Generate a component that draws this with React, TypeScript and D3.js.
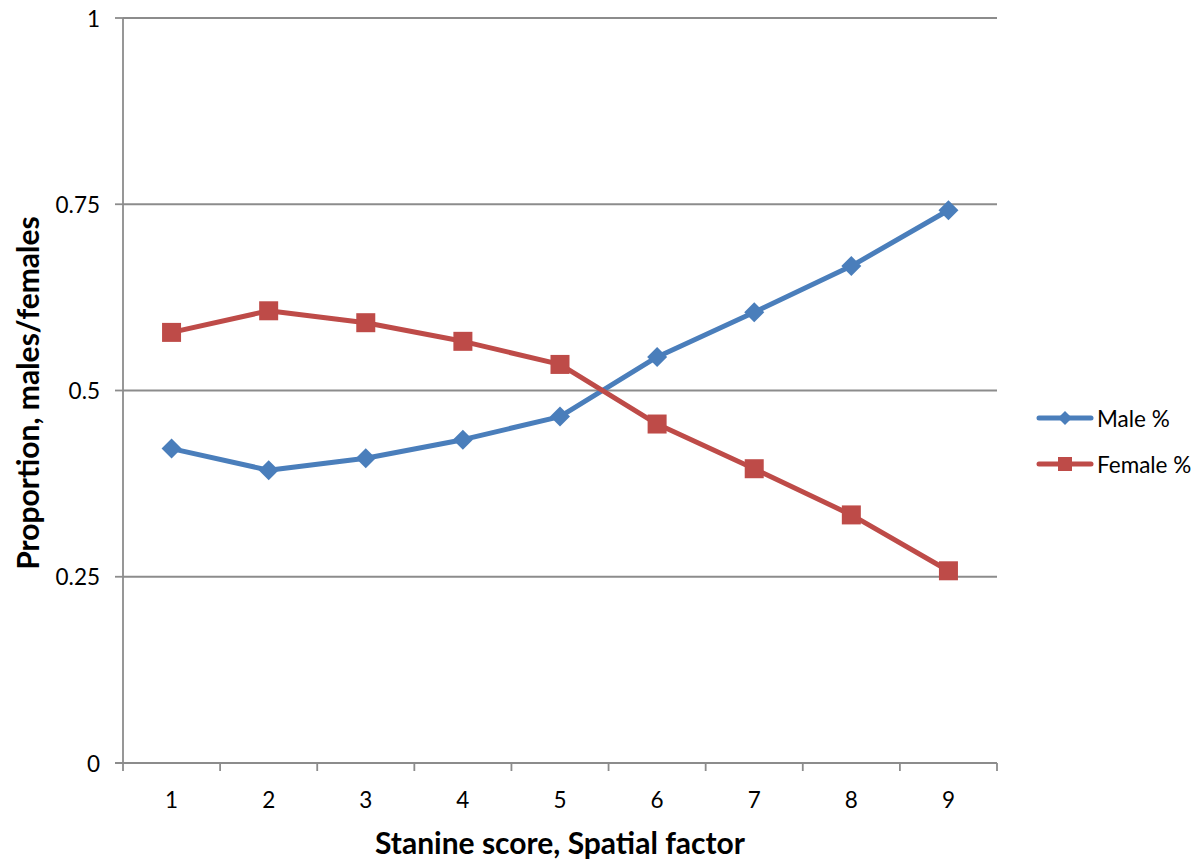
import React from "react";
import * as d3 from "d3";

const stanines = ["1", "2", "3", "4", "5", "6", "7", "8", "9"];
const maleShare = [0.422, 0.393, 0.409, 0.434, 0.465, 0.545, 0.605, 0.667, 0.742];
const femaleShare = [0.578, 0.607, 0.591, 0.566, 0.535, 0.455, 0.395, 0.333, 0.258];
const yTicks = [0, 0.25, 0.5, 0.75, 1];
const yTickLabels = ["0", "0.25", "0.5", "0.75", "1"];

const W = 1202;
const H = 861;
const left = 123;
const right = 997;
const top = 18;
const bottom = 763;
const FONT = "Lato, 'Open Sans', sans-serif";
const BLUE = "#4a7ebb";
const RED = "#be4b48";
const GRID = "#8c8c8c";
const TICK_SIZE = 22.5;
const TITLE_SIZE = 30;

export default function App() {
  const x = d3.scaleBand<string>().domain(stanines).range([left, right]);
  const cx = (c: string) => (x(c) ?? 0) + x.bandwidth() / 2;
  const y = d3.scaleLinear().domain([0, 1]).range([bottom, top]);
  const line = d3
    .line<number>()
    .x((_, i) => cx(stanines[i]))
    .y((v) => y(v));

  const diamond = (px: number, py: number, r: number) =>
    `M${px},${py - r}L${px + r},${py}L${px},${py + r}L${px - r},${py}Z`;

  const bandEdges = stanines.map((c) => x(c) ?? 0).concat([right]);

  return (
    <svg width={W} height={H} style={{ position: "absolute", left: 0, top: 0, background: "#fff" }}>
      {yTicks.map((t, i) => (
        <g key={t}>
          {t > 0 && (
            <line x1={left} x2={right} y1={y(t)} y2={y(t)} stroke={GRID} strokeWidth={1.8} />
          )}
          <line x1={left - 8} x2={left} y1={y(t)} y2={y(t)} stroke={GRID} strokeWidth={1.8} />
          <text
            x={100}
            y={y(t)}
            textAnchor="end"
            dominantBaseline="central"
            fontFamily={FONT}
            fontSize={TICK_SIZE}
            fill="#000"
          >
            {yTickLabels[i]}
          </text>
        </g>
      ))}
      <line x1={left} x2={left} y1={top} y2={bottom} stroke={GRID} strokeWidth={1.8} />
      <line x1={left - 8} x2={right} y1={bottom} y2={bottom} stroke={GRID} strokeWidth={1.8} />
      {bandEdges.map((e, i) => (
        <line key={i} x1={e} x2={e} y1={bottom} y2={bottom + 8} stroke={GRID} strokeWidth={1.8} />
      ))}
      {stanines.map((c) => (
        <text
          key={c}
          x={cx(c)}
          y={799}
          textAnchor="middle"
          dominantBaseline="central"
          fontFamily={FONT}
          fontSize={TICK_SIZE}
          fill="#000"
        >
          {c}
        </text>
      ))}
      <text
        x={560}
        y={842}
        textAnchor="middle"
        dominantBaseline="central"
        fontFamily={FONT}
        fontSize={TITLE_SIZE}
        fontWeight="bold"
        fill="#000"
      >
        Stanine score, Spatial factor
      </text>
      <text
        transform={`translate(27,393) rotate(-90)`}
        textAnchor="middle"
        dominantBaseline="central"
        fontFamily={FONT}
        fontSize={TITLE_SIZE}
        fontWeight="bold"
        fill="#000"
      >
        Proportion, males/females
      </text>

      <path d={line(maleShare) ?? ""} fill="none" stroke={BLUE} strokeWidth={5} strokeLinejoin="round" />
      {maleShare.map((v, i) => (
        <path key={i} d={diamond(cx(stanines[i]), y(v), 10)} fill={BLUE} />
      ))}
      <path d={line(femaleShare) ?? ""} fill="none" stroke={RED} strokeWidth={5} strokeLinejoin="round" />
      {femaleShare.map((v, i) => (
        <rect key={i} x={cx(stanines[i]) - 9.5} y={y(v) - 9.5} width={19} height={19} fill={RED} />
      ))}

      {/* legend */}
      <g>
        <line x1={1039} x2={1091} y1={418} y2={418} stroke={BLUE} strokeWidth={5} strokeLinecap="round" />
        <path d={diamond(1065, 418, 7)} fill={BLUE} />
        <text x={1097} y={418} dominantBaseline="central" fontFamily={FONT} fontSize={TICK_SIZE} fill="#000">
          Male %
        </text>
        <line x1={1039} x2={1091} y1={464} y2={464} stroke={RED} strokeWidth={5} strokeLinecap="round" />
        <rect x={1058} y={457} width={14} height={14} fill={RED} />
        <text x={1097} y={464} dominantBaseline="central" fontFamily={FONT} fontSize={TICK_SIZE} fill="#000">
          Female %
        </text>
      </g>
    </svg>
  );
}
